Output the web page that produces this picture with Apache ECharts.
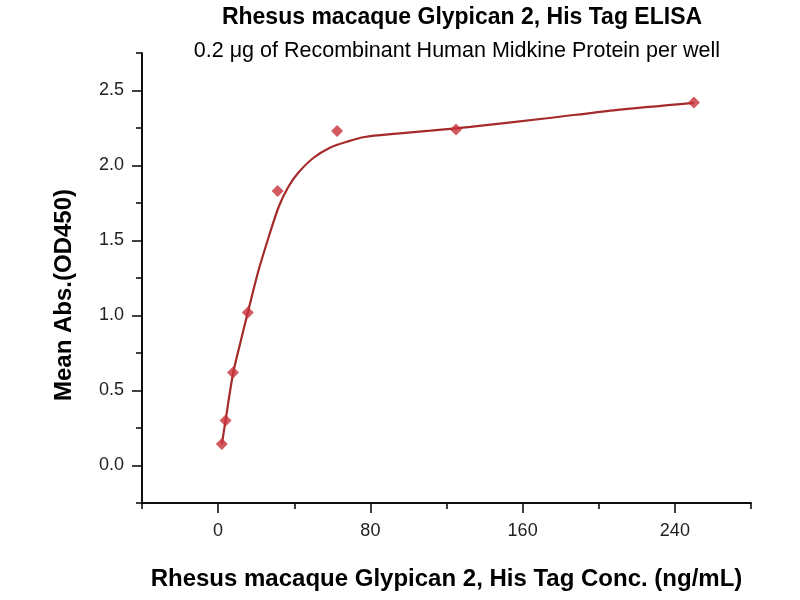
<!DOCTYPE html>
<html><head><meta charset="utf-8">
<script src="https://cdn.jsdelivr.net/npm/echarts@6/dist/echarts.min.js"></script>
<style>html,body{margin:0;padding:0;background:#fff}#c{width:800px;height:600px}</style>
</head><body><div id="c"></div>
<script>
var titleText = 'Rhesus macaque Glypican 2, His Tag ELISA';
var subtitleText = '0.2 μg of Recombinant Human Midkine Protein per well';
var xAxisName = 'Rhesus macaque Glypican 2, His Tag Conc. (ng/mL)';
var yAxisName = 'Mean Abs.(OD450)';

var conc = [1.95, 3.9, 7.8, 15.6, 31.25, 62.5, 125, 250];
var absorbance = [0.144, 0.30, 0.62, 1.02, 1.83, 2.23, 2.24, 2.42];

var fitX = [1.95, 3.9, 7.8, 11.7, 15.6, 21, 26.5, 32, 37, 42, 50, 59, 68, 77, 94, 111.5, 132.5, 172.8, 207.8, 250];
var fitY = [0.14, 0.30, 0.61, 0.82, 1.02, 1.29, 1.52, 1.73, 1.86, 1.95, 2.05, 2.12, 2.16, 2.19, 2.212, 2.232, 2.258, 2.315, 2.368, 2.418];

var xMajorTicks = [0, 80, 160, 240];
var xMinorTicks = [-40, 40, 120, 200, 280];
var yMajorTicks = [0, 0.5, 1.0, 1.5, 2.0, 2.5];
var yMinorTicks = [-0.25, 0.25, 0.75, 1.25, 1.75, 2.25, 2.75];

var font = '"Liberation Sans", Arial, sans-serif';
var chart = echarts.init(document.getElementById('c'));

function zip(a, b) { return a.map(function (v, i) { return [v, b[i]]; }); }

var axisLineStyle = { color: '#000', width: 1.5 };

chart.setOption({
  animation: false,
  backgroundColor: '#fff',
  title: [
    { text: titleText, left: 457, top: 1, textAlign: 'center',
      textStyle: { fontFamily: font, fontWeight: 'bold', fontSize: 23, color: '#000' } },
    { text: subtitleText, left: 452, top: 35, textAlign: 'center',
      textStyle: { fontFamily: font, fontWeight: 'normal', fontSize: 21.5, color: '#000' } }
  ],
  grid: { left: 142, right: 49, top: 53, bottom: 97, containLabel: false },
  xAxis: [
    { type: 'value', min: -40, max: 280, position: 'bottom',
      name: xAxisName, nameLocation: 'middle', nameGap: 64,
      nameTextStyle: { fontFamily: font, fontWeight: 'bold', fontSize: 24, color: '#000' },
      axisLine: { show: true, onZero: false, lineStyle: axisLineStyle },
      axisTick: { show: true, customValues: xMajorTicks, length: 10, lineStyle: axisLineStyle },
      axisLabel: { customValues: xMajorTicks, margin: 19, fontFamily: font, fontSize: 18, color: '#222' },
      splitLine: { show: false } },
    { type: 'value', min: -40, max: 280, position: 'bottom',
      axisLine: { show: true, onZero: false, lineStyle: axisLineStyle },
      axisTick: { show: true, customValues: xMinorTicks, length: 6, lineStyle: axisLineStyle },
      axisLabel: { show: false },
      splitLine: { show: false } }
  ],
  yAxis: [
    { type: 'value', min: -0.25, max: 2.75, position: 'left',
      name: yAxisName, nameLocation: 'middle', nameGap: 66,
      nameTextStyle: { fontFamily: font, fontWeight: 'bold', fontSize: 24, color: '#000',
        padding: [0, 34, 0, 0] },
      axisLine: { show: true, onZero: false, lineStyle: axisLineStyle },
      axisTick: { show: true, customValues: yMajorTicks, length: 10, lineStyle: axisLineStyle },
      axisLabel: { customValues: yMajorTicks, margin: 18, fontFamily: font, fontSize: 18, color: '#222',
        formatter: function (v) { return v.toFixed(1); } },
      splitLine: { show: false } },
    { type: 'value', min: -0.25, max: 2.75, position: 'left',
      axisLine: { show: true, onZero: false, lineStyle: axisLineStyle },
      axisTick: { show: true, customValues: yMinorTicks, length: 6, lineStyle: axisLineStyle },
      axisLabel: { show: false },
      splitLine: { show: false } }
  ],
  series: [
    { type: 'line', xAxisIndex: 0, yAxisIndex: 0, data: zip(fitX, fitY), smooth: 0.3,
      showSymbol: false, symbol: 'none',
      lineStyle: { color: '#a52a2a', width: 2.2 }, z: 2 },
    { type: 'scatter', xAxisIndex: 0, yAxisIndex: 0, data: zip(conc, absorbance),
      symbol: 'diamond', symbolSize: [12, 12],
      itemStyle: { color: '#c8313a' }, z: 3 }
  ]
});
</script></body></html>
